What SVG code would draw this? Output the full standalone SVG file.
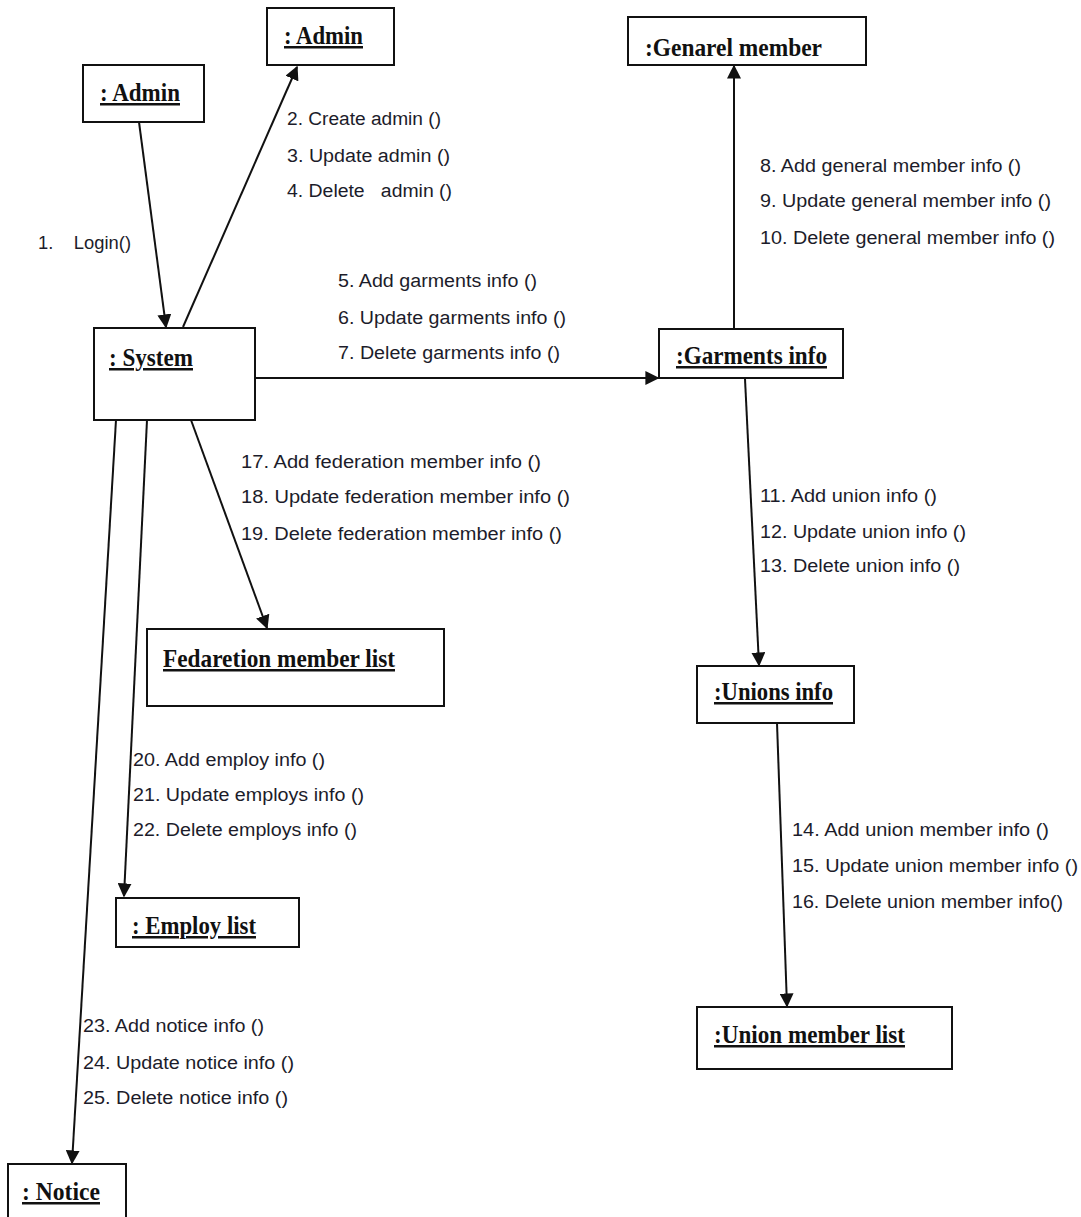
<svg xmlns="http://www.w3.org/2000/svg" width="1081" height="1217" viewBox="0 0 1081 1217">
<style>
.box{fill:#fff;stroke:#111;stroke-width:2}
.t{font-family:"Liberation Serif","Times New Roman",serif;font-weight:bold;font-size:25px;fill:#111;text-decoration:underline}
.l{font-family:"Liberation Sans",Arial,sans-serif;font-size:18px;fill:#1c1c2a}
.c{stroke:#111;stroke-width:2;fill:none;marker-end:url(#ah)}
</style>
<defs>
<marker id="ah" viewBox="0 0 10 10" refX="9" refY="5" markerWidth="7" markerHeight="7" markerUnits="strokeWidth" orient="auto">
<path d="M0,0 L10,5 L0,10 z" fill="#111"/>
</marker>
</defs>
<rect width="1081" height="1217" fill="#fff"/>
<g id="connectors">
<line class="c" x1="139" y1="122" x2="166" y2="327"/>
<line class="c" x1="183" y1="327" x2="297" y2="67"/>
<line class="c" x1="255" y1="378" x2="658" y2="378"/>
<line class="c" x1="734" y1="329" x2="734" y2="66"/>
<line class="c" x1="745" y1="379" x2="759" y2="665"/>
<line class="c" x1="777" y1="723" x2="787" y2="1006"/>
<line class="c" x1="191" y1="420" x2="267" y2="628"/>
<line class="c" x1="147" y1="420" x2="124" y2="896"/>
<line class="c" x1="116" y1="420" x2="72" y2="1163"/>
</g>
<g id="admin1"><rect class="box" x="83" y="65" width="121" height="57"/><text class="t" x="100" y="101" textLength="80" lengthAdjust="spacingAndGlyphs">: Admin</text></g>
<g id="admin2"><rect class="box" x="267" y="8" width="127" height="57"/><text class="t" x="284" y="44" textLength="79" lengthAdjust="spacingAndGlyphs">: Admin</text></g>
<g id="general"><rect class="box" x="628" y="17" width="238" height="48"/><text class="t" style="text-decoration:none" x="645" y="56" textLength="177" lengthAdjust="spacingAndGlyphs">:Genarel member</text></g>
<g id="system"><rect class="box" x="94" y="328" width="161" height="92"/><text class="t" x="109" y="366" textLength="84" lengthAdjust="spacingAndGlyphs">: System</text></g>
<g id="garments"><rect class="box" x="659" y="329" width="184" height="49"/><text class="t" x="676" y="364" textLength="151" lengthAdjust="spacingAndGlyphs">:Garments info</text></g>
<g id="federation"><rect class="box" x="147" y="629" width="297" height="77"/><text class="t" x="163" y="667" textLength="232" lengthAdjust="spacingAndGlyphs">Fedaretion member list</text></g>
<g id="unions"><rect class="box" x="697" y="666" width="157" height="57"/><text class="t" x="714" y="700" textLength="119" lengthAdjust="spacingAndGlyphs">:Unions info</text></g>
<g id="employ"><rect class="box" x="116" y="898" width="183" height="49"/><text class="t" x="132" y="934" textLength="124" lengthAdjust="spacingAndGlyphs">: Employ list</text></g>
<g id="unionmember"><rect class="box" x="697" y="1007" width="255" height="62"/><text class="t" x="714" y="1043" textLength="191" lengthAdjust="spacingAndGlyphs">:Union member list</text></g>
<g id="notice"><rect class="box" x="8" y="1164" width="118" height="60"/><text class="t" x="22" y="1200" textLength="78" lengthAdjust="spacingAndGlyphs">: Notice</text></g>
<g id="labels">
<text class="l" x="38" y="249" textLength="93" lengthAdjust="spacingAndGlyphs" xml:space="preserve">1.    Login()</text>
<text class="l" x="287" y="125" textLength="154" lengthAdjust="spacingAndGlyphs">2. Create admin ()</text>
<text class="l" x="287" y="162" textLength="163" lengthAdjust="spacingAndGlyphs">3. Update admin ()</text>
<text class="l" x="287" y="197" textLength="165" lengthAdjust="spacingAndGlyphs" xml:space="preserve">4. Delete   admin ()</text>
<text class="l" x="338" y="287" textLength="199" lengthAdjust="spacingAndGlyphs">5. Add garments info ()</text>
<text class="l" x="338" y="324" textLength="228" lengthAdjust="spacingAndGlyphs">6. Update garments info ()</text>
<text class="l" x="338" y="359" textLength="222" lengthAdjust="spacingAndGlyphs">7. Delete garments info ()</text>
<text class="l" x="760" y="172" textLength="261" lengthAdjust="spacingAndGlyphs">8. Add general member info ()</text>
<text class="l" x="760" y="207" textLength="291" lengthAdjust="spacingAndGlyphs">9. Update general member info ()</text>
<text class="l" x="760" y="244" textLength="295" lengthAdjust="spacingAndGlyphs">10. Delete general member info ()</text>
<text class="l" x="760" y="502" textLength="177" lengthAdjust="spacingAndGlyphs">11. Add union info ()</text>
<text class="l" x="760" y="538" textLength="206" lengthAdjust="spacingAndGlyphs">12. Update union info ()</text>
<text class="l" x="760" y="572" textLength="200" lengthAdjust="spacingAndGlyphs">13. Delete union info ()</text>
<text class="l" x="792" y="836" textLength="257" lengthAdjust="spacingAndGlyphs">14. Add union member info ()</text>
<text class="l" x="792" y="872" textLength="286" lengthAdjust="spacingAndGlyphs">15. Update union member info ()</text>
<text class="l" x="792" y="908" textLength="271" lengthAdjust="spacingAndGlyphs">16. Delete union member info()</text>
<text class="l" x="241" y="468" textLength="300" lengthAdjust="spacingAndGlyphs">17. Add federation member info ()</text>
<text class="l" x="241" y="503" textLength="329" lengthAdjust="spacingAndGlyphs">18. Update federation member info ()</text>
<text class="l" x="241" y="540" textLength="321" lengthAdjust="spacingAndGlyphs">19. Delete federation member info ()</text>
<text class="l" x="133" y="766" textLength="192" lengthAdjust="spacingAndGlyphs">20. Add employ info ()</text>
<text class="l" x="133" y="801" textLength="231" lengthAdjust="spacingAndGlyphs">21. Update employs info ()</text>
<text class="l" x="133" y="836" textLength="224" lengthAdjust="spacingAndGlyphs">22. Delete employs info ()</text>
<text class="l" x="83" y="1032" textLength="181" lengthAdjust="spacingAndGlyphs">23. Add notice info ()</text>
<text class="l" x="83" y="1069" textLength="211" lengthAdjust="spacingAndGlyphs">24. Update notice info ()</text>
<text class="l" x="83" y="1104" textLength="205" lengthAdjust="spacingAndGlyphs">25. Delete notice info ()</text>
</g>
</svg>
